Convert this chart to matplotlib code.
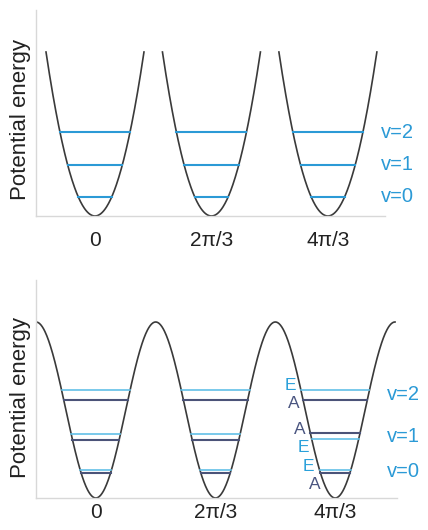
import numpy as np
import matplotlib.pyplot as plt

plt.rcParams['font.family'] = ['Liberation Sans', 'DejaVu Sans']

# well positions (torsion angle) and tick labels
phases = [0, 2 * np.pi / 3, 4 * np.pi / 3]
tick_labels = ['0', '2π/3', '4π/3']
v_names = ['v=0', 'v=1', 'v=2']

# top panel: harmonic wells, levels in units of well height
top_levels = [0.116, 0.311, 0.512]
well_halfwidth = 0.881

# bottom panel: cosine potential, split E / A levels per well
E_levels = [[0.159, 0.362, 0.614],
            [0.159, 0.362, 0.614],
            [0.159, 0.333, 0.614]]
A_levels = [[0.142, 0.331, 0.557],
            [0.142, 0.331, 0.557],
            [0.142, 0.367, 0.557]]

curve_col = '#3a3a3a'
blue = '#2b9ad6'
light = '#62c0e8'
dark = '#4b5378'
E_txt = '#2aa0da'
A_txt = '#4a5580'

fig = plt.figure(figsize=(4.28, 5.30), dpi=100)
W, H = 428, 530


def axes_px(x0, x1, y0, y1):
    return fig.add_axes([x0 / W, 1 - y1 / H, (x1 - x0) / W, (y1 - y0) / H])


def style(ax, pad):
    for s in ['top', 'right']:
        ax.spines[s].set_visible(False)
    for s in ['left', 'bottom']:
        ax.spines[s].set_color('#d8d8d8')
        ax.spines[s].set_linewidth(1.0)
    ax.set_yticks([])
    ax.set_xticks(phases)
    ax.set_xticklabels(tick_labels, fontsize=15, color='#222222')
    ax.tick_params(axis='x', length=0, pad=pad)


# ---- top panel ----
ax1 = axes_px(36, 385, 10, 216)
for p in phases:
    x = np.linspace(p - well_halfwidth, p + well_halfwidth, 200)
    ax1.plot(x, ((x - p) / well_halfwidth) ** 2, color=curve_col, lw=1.2)
    for e in top_levels:
        dx = well_halfwidth * np.sqrt(e)
        ax1.plot([p - dx, p + dx], [e, e], color=blue, lw=1.5)
ax1.set_xlim(-1.061, 5.216)
ax1.set_ylim(0, 206 / 164)
style(ax1, 11)
for e, name in zip(top_levels, v_names):
    ax1.text(0.989, e, name, transform=ax1.get_yaxis_transform(),
             ha='left', va='center', fontsize=14.5, color=blue, clip_on=False)

# ---- bottom panel ----
ax2 = axes_px(36, 397, 280, 498)
x = np.linspace(-np.pi / 3, 5 * np.pi / 3, 800)
ax2.plot(x, (1 - np.cos(3 * x)) / 2, color=curve_col, lw=1.2)


def half_width(e):
    return np.arccos(1 - 2 * e) / 3


for p, el, al in zip(phases, E_levels, A_levels):
    for e in el:
        ax2.plot([p - half_width(e), p + half_width(e)], [e, e], color=light, lw=1.2)
    for a in al:
        ax2.plot([p - half_width(a), p + half_width(a)], [a, a], color=dark, lw=1.5)
ax2.set_xlim(-np.pi / 3, -np.pi / 3 + 361 / 57.14)
ax2.set_ylim(0, 218 / 176)
style(ax2, 3.5)

for i, name in enumerate(v_names):
    y = (E_levels[2][i] + A_levels[2][i]) / 2
    ax2.text(0.972, y, name, transform=ax2.get_yaxis_transform(),
             ha='left', va='center', fontsize=14.5, color=blue, clip_on=False)

# E / A labels to the left of the third well
px = 1 / 176
p = phases[2]
for i in range(3):
    e, a = E_levels[2][i], A_levels[2][i]
    pairs = [('E', e, E_txt), ('A', a, A_txt)]
    pairs.sort(key=lambda t: -t[1])
    top_y = pairs[0][1]
    for (lab, lev, col), off in zip(pairs, [4 * px, -14 * px]):
        ly = top_y + off
        lx = p - half_width(ly) - 10 / 57.14
        ax2.text(lx, ly, lab, ha='center', va='center', fontsize=12.5, color=col)

fig.text(21 / W, 1 - 120 / H, 'Potential energy', rotation=90,
         ha='center', va='center', fontsize=16, color='#222222')
fig.text(21 / W, 1 - 398 / H, 'Potential energy', rotation=90,
         ha='center', va='center', fontsize=16, color='#222222')

fig.savefig('out.png', dpi=100)
